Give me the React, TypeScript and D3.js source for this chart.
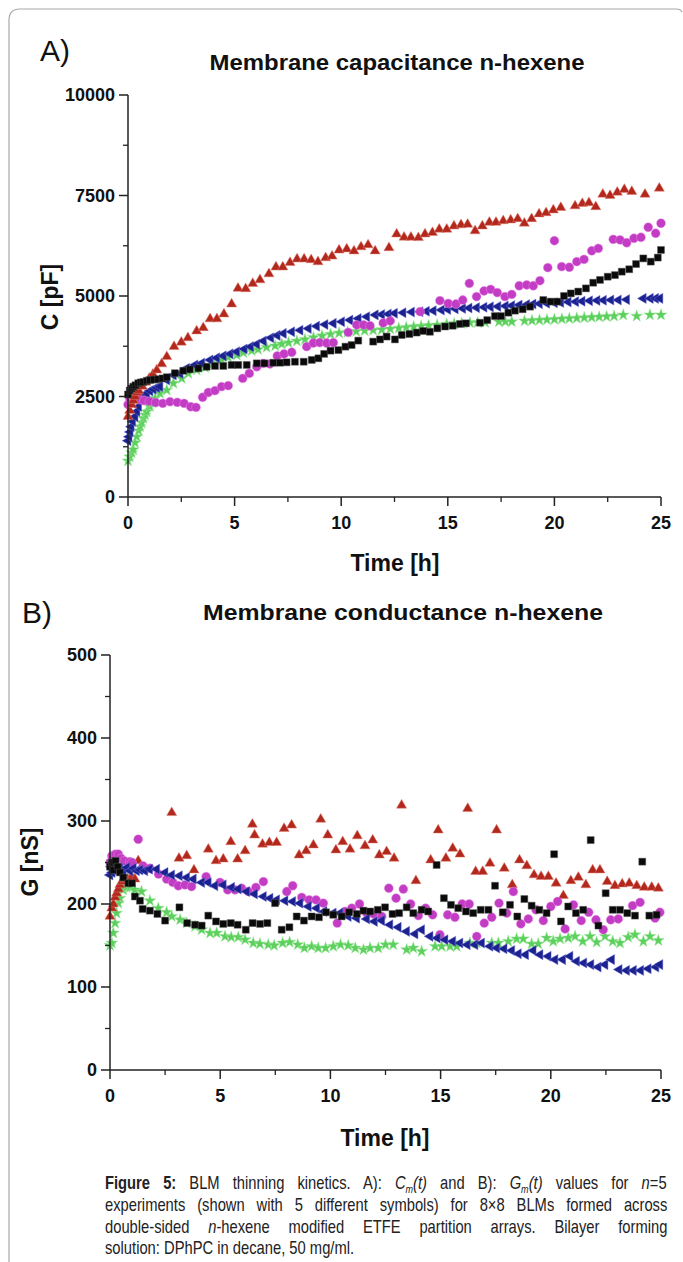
import React, { useMemo } from "react";
import * as d3 from "d3";

type P = [number, number];

// ---------- Panel A: membrane capacitance (pF) vs time (h) ----------
const capRedTriangles: P[] = [[0,2000],[0.08,2150],[0.17,2300],[0.25,2400],[0.33,2500],[0.42,2600],[0.5,2650],[0.67,2750],[0.83,2850],[1.0,2950],[1.17,3050],[1.35,3160],[1.58,3310],[1.82,3490],[2.16,3740],[2.5,3850],[2.81,3960],[3.22,4130],[3.53,4210],[3.85,4430],[4.17,4430],[4.5,4550],[4.86,4800],[5.16,5190],[5.52,5180],[5.85,5310],[6.19,5400],[6.61,5550],[6.94,5720],[7.26,5720],[7.6,5830],[7.93,5920],[8.26,5920],[8.59,5900],[8.91,5850],[9.27,5950],[9.57,5990],[9.9,6140],[10.26,6170],[10.6,6120],[10.93,6220],[11.26,6270],[11.59,6120],[12.24,6200],[12.6,6540],[12.95,6460],[13.27,6460],[13.62,6450],[13.93,6540],[14.28,6575],[14.6,6660],[14.95,6660],[15.29,6740],[15.62,6770],[15.93,6780],[16.28,6620],[16.62,6740],[16.95,6830],[17.26,6830],[17.6,6870],[17.95,6890],[18.28,6920],[18.59,6810],[18.93,6920],[19.28,7040],[19.61,7070],[19.95,7140],[20.3,7200],[20.97,7240],[21.31,7300],[21.62,7320],[21.94,7220],[22.27,7530],[22.61,7500],[22.95,7580],[23.28,7650],[23.63,7600],[24.25,7530],[24.92,7680]];
const capMagentaCircles: P[] = [[0,2300],[0.08,2450],[0.17,2520],[0.25,2500],[0.42,2450],[0.58,2420],[0.75,2400],[1.0,2380],[1.3,2350],[1.63,2330],[1.97,2370],[2.31,2355],[2.63,2330],[2.94,2245],[3.19,2230],[3.5,2480],[3.77,2600],[4.08,2645],[4.39,2745],[4.7,2770],[5.38,2950],[5.69,3075],[6.04,3240],[6.35,3325],[6.66,3310],[7.0,3510],[7.32,3560],[7.68,3600],[8.38,3740],[8.69,3830],[8.99,3840],[9.32,3830],[9.63,3840],[10.33,4095],[10.73,4280],[11.05,4280],[11.35,4260],[11.97,4330],[12.3,4380],[13.7,4610],[14.63,4885],[15.02,4815],[15.38,4800],[15.7,4900],[16.01,5315],[16.35,4985],[16.7,5125],[17.01,5165],[17.32,5085],[17.68,4985],[18.0,5040],[18.35,5255],[18.7,5275],[19.01,5255],[19.32,5380],[19.69,5705],[20.0,6375],[20.34,5730],[20.7,5715],[21.05,5855],[21.39,5910],[21.75,6125],[22.06,6185],[22.76,6410],[23.08,6395],[23.39,6325],[23.73,6435],[24.06,6460],[24.4,6710],[24.75,6560],[25.0,6810]];
const capBlackSquares: P[] = [[0,2550],[0.08,2650],[0.17,2700],[0.25,2745],[0.35,2780],[0.48,2830],[0.6,2850],[0.72,2860],[0.88,2890],[1.03,2910],[1.22,2920],[1.42,2930],[1.62,2950],[1.82,2980],[2.2,3080],[2.59,3140],[2.9,3175],[3.3,3200],[3.69,3240],[4.08,3260],[4.47,3260],[4.86,3285],[5.17,3285],[5.57,3285],[6.04,3325],[6.4,3325],[6.82,3340],[7.13,3340],[7.44,3350],[7.83,3365],[8.24,3365],[8.62,3410],[8.93,3450],[9.2,3560],[9.5,3640],[9.87,3655],[10.2,3740],[10.49,3780],[10.8,3890],[11.5,3865],[11.82,3920],[12.13,3990],[12.52,3920],[12.84,4030],[13.2,4055],[13.54,4090],[13.85,4130],[14.16,4110],[14.51,4195],[14.87,4240],[15.23,4260],[15.57,4305],[15.85,4320],[16.51,4335],[16.85,4400],[17.21,4500],[17.5,4500],[17.84,4585],[18.15,4635],[18.51,4670],[18.86,4735],[19.48,4900],[19.83,4860],[20.14,4860],[20.45,5000],[20.77,5065],[21.12,5110],[21.48,5190],[21.82,5330],[22.14,5400],[22.5,5480],[22.84,5520],[23.16,5605],[23.51,5665],[23.83,5795],[24.17,5935],[24.52,5855],[24.85,5955],[25.0,6145]];
const capBlueTriangles: P[] = [[0,1400],[0.05,1500],[0.1,1620],[0.15,1750],[0.22,1880],[0.33,2000],[0.42,2130],[0.5,2250],[0.64,2455],[0.76,2520],[0.88,2580],[1.03,2640],[1.19,2680],[1.35,2720],[1.5,2745],[1.82,2910],[2.13,3035],[2.44,3075],[2.75,3200],[3.14,3285],[3.46,3330],[3.85,3410],[4.16,3460],[4.47,3510],[4.79,3560],[5.1,3615],[5.45,3680],[5.75,3740],[6.04,3800],[6.35,3880],[6.7,3960],[7.0,4020],[7.29,4070],[7.68,4110],[8.07,4150],[8.46,4190],[8.85,4250],[9.24,4290],[9.63,4320],[10.02,4360],[10.41,4400],[10.8,4440],[11.2,4485],[11.6,4530],[11.9,4540],[12.21,4550],[12.5,4570],[12.9,4585],[13.3,4600],[13.7,4610],[14.0,4620],[14.32,4635],[14.7,4650],[15.0,4665],[15.35,4680],[15.7,4690],[16.0,4700],[16.35,4710],[16.7,4720],[17.0,4730],[17.35,4740],[17.7,4750],[18.0,4760],[18.35,4775],[18.7,4785],[19.0,4800],[19.3,4810],[19.64,4820],[20.0,4830],[20.3,4840],[20.65,4850],[21.0,4860],[21.3,4870],[21.65,4880],[22.0,4890],[22.3,4895],[22.65,4900],[23.0,4900],[23.39,4910],[24.17,4940],[24.5,4940],[24.75,4940],[24.95,4940]];
const capGreenStars: P[] = [[0,900],[0.08,1000],[0.17,1100],[0.25,1180],[0.33,1350],[0.41,1500],[0.5,1650],[0.56,1750],[0.64,1850],[0.72,1960],[0.8,2040],[0.88,2120],[1.03,2250],[1.15,2350],[1.27,2455],[1.5,2580],[1.82,2660],[2.13,2830],[2.52,2950],[2.83,3075],[3.22,3160],[3.61,3225],[4.0,3325],[4.39,3410],[4.7,3475],[5.1,3530],[5.41,3590],[5.8,3640],[6.1,3670],[6.5,3725],[6.9,3760],[7.21,3805],[7.53,3840],[7.92,3880],[8.3,3920],[8.7,3970],[9.1,4010],[9.5,4050],[9.9,4080],[10.3,4100],[10.7,4120],[11.1,4140],[11.5,4150],[11.9,4160],[12.3,4180],[12.7,4200],[13.05,4220],[13.4,4235],[13.75,4250],[14.1,4265],[14.5,4280],[14.95,4300],[15.3,4310],[15.65,4320],[16.04,4335],[16.4,4340],[16.75,4345],[17.4,4360],[17.7,4360],[18.0,4360],[18.6,4380],[18.95,4390],[19.3,4400],[19.65,4410],[20.0,4420],[20.35,4430],[20.7,4440],[21.05,4450],[21.4,4460],[21.75,4470],[22.1,4480],[22.45,4490],[22.8,4500],[23.23,4530],[23.86,4500],[24.48,4530],[25.0,4530]];

// ---------- Panel B: membrane conductance (nS) vs time (h) ----------
const condRedTriangles: P[] = [[0,185],[0.08,195],[0.15,200],[0.23,208],[0.3,213],[0.38,218],[0.45,223],[0.55,227],[0.68,230],[0.8,230],[0.9,230],[1.0,232],[1.13,230],[1.28,252],[2.8,310],[3.13,255],[3.48,258],[3.81,241],[4.46,266],[4.81,252],[5.14,254],[5.48,275],[5.79,254],[6.13,264],[6.46,296],[6.56,283],[6.92,272],[7.23,274],[7.56,274],[7.9,291],[8.24,295],[8.58,259],[8.9,264],[9.23,271],[9.56,302],[9.88,283],[10.25,265],[10.56,275],[10.89,266],[11.22,282],[11.57,270],[11.92,277],[12.22,259],[12.55,263],[12.89,255],[13.23,319],[13.88,228],[14.55,253],[14.89,289],[15.24,255],[15.55,267],[15.88,260],[16.23,315],[16.59,239],[16.91,239],[17.24,249],[17.54,289],[17.89,243],[18.25,223],[18.58,253],[18.91,246],[19.24,235],[19.56,233],[19.89,233],[20.24,225],[20.57,210],[20.91,228],[21.25,232],[21.59,223],[21.9,241],[22.23,241],[22.56,227],[22.91,222],[23.24,224],[23.56,225],[23.9,222],[24.24,220],[24.58,220],[24.88,219]];
const condMagentaCircles: P[] = [[0,250],[0.08,258],[0.15,258],[0.25,260],[0.38,260],[0.5,255],[0.65,252],[0.9,251],[1.0,250],[1.28,278],[1.5,246],[1.81,243],[2.2,236],[2.57,230],[2.85,226],[3.1,222],[3.4,223],[3.7,221],[4.36,233],[4.99,226],[5.34,217],[5.67,217],[5.97,219],[6.28,215],[6.62,220],[6.96,227],[8.02,215],[8.29,222],[8.7,208],[9.04,205],[9.35,205],[9.68,201],[10.31,177],[10.66,191],[10.97,195],[11.32,200],[11.65,189],[11.95,188],[12.33,185],[12.65,219],[12.98,207],[13.31,218],[13.64,200],[13.99,186],[14.32,195],[14.64,187],[14.97,163],[15.32,187],[15.65,184],[15.98,200],[16.3,200],[16.64,161],[16.98,177],[17.32,184],[17.65,201],[18.0,189],[18.3,215],[18.64,176],[18.98,182],[19.33,193],[19.66,180],[20.0,197],[20.31,203],[20.65,170],[21.03,199],[21.38,180],[21.72,190],[22.05,181],[22.38,169],[22.72,181],[23.06,182],[23.71,198],[24.05,202],[24.73,183],[24.95,190]];
const condBlackSquares: P[] = [[0,245],[0.08,250],[0.15,241],[0.25,252],[0.35,245],[0.45,238],[0.6,232],[0.83,225],[1.0,225],[1.13,209],[1.36,204],[1.48,194],[1.81,192],[2.15,188],[2.5,180],[3.15,196],[3.5,177],[3.86,175],[4.16,174],[4.46,186],[4.81,179],[5.14,176],[5.48,177],[5.79,175],[6.16,169],[6.47,177],[6.81,176],[7.14,177],[7.49,201],[7.79,169],[8.14,172],[8.47,185],[8.8,180],[9.15,185],[9.48,184],[9.8,190],[10.13,187],[10.51,185],[10.85,190],[11.2,188],[11.5,192],[11.8,191],[12.15,193],[12.48,196],[12.82,188],[13.12,189],[13.46,196],[13.76,189],[14.14,193],[14.44,191],[14.82,247],[15.15,207],[15.47,199],[15.8,195],[16.15,191],[16.48,189],[16.82,193],[17.17,193],[17.47,222],[17.82,190],[18.15,199],[18.48,185],[18.8,206],[19.13,198],[19.48,193],[19.81,189],[20.15,260],[20.46,179],[20.79,197],[21.14,189],[21.47,193],[21.81,277],[22.16,174],[22.49,213],[22.81,193],[23.14,193],[23.47,189],[23.82,186],[24.15,251],[24.47,186],[24.8,187]];
const condBlueTriangles: P[] = [[0,235],[0.05,245],[0.1,238],[0.15,241],[0.25,248],[0.35,242],[0.45,243],[0.6,240],[0.76,244],[0.9,240],[1.06,243],[1.2,240],[1.36,241],[1.58,240],[1.8,242],[2.12,242],[2.5,238],[2.8,235],[3.15,234],[3.48,232],[3.78,230],[4.16,226],[4.46,226],[4.76,222],[5.14,223],[5.52,220],[5.82,218],[6.2,215],[6.56,212],[6.96,209],[7.26,207],[7.56,205],[7.94,204],[8.29,203],[8.62,201],[9.0,197],[9.38,195],[9.71,191],[10.13,189],[10.43,189],[10.81,185],[11.19,183],[11.65,182],[12.0,179],[12.33,180],[12.7,175],[13.08,172],[13.46,167],[13.84,164],[14.14,169],[14.52,161],[14.85,159],[15.2,157],[15.55,155],[15.88,153],[16.21,151],[16.56,151],[16.86,153],[17.24,149],[17.55,147],[17.88,146],[18.23,144],[18.53,140],[18.86,139],[19.2,144],[19.51,139],[19.88,137],[20.19,133],[20.54,133],[20.87,137],[21.17,131],[21.5,129],[21.82,127],[22.15,124],[22.46,127],[22.76,133],[23.1,121],[23.44,120],[23.75,120],[24.08,120],[24.42,122],[24.77,124],[24.95,127]];
const condGreenStars: P[] = [[0,150],[0.08,153],[0.15,165],[0.23,177],[0.3,189],[0.38,201],[0.45,207],[0.6,217],[0.76,220],[0.9,220],[1.13,217],[1.43,215],[1.81,204],[2.19,195],[2.57,190],[2.8,185],[3.18,181],[3.48,177],[3.86,173],[4.16,169],[4.54,165],[4.84,165],[5.22,161],[5.5,160],[5.82,160],[6.13,157],[6.5,153],[6.8,152],[7.18,151],[7.45,150],[7.83,153],[8.15,154],[8.52,151],[8.82,147],[9.15,149],[9.45,147],[9.78,147],[10.13,149],[10.46,151],[10.81,150],[11.13,147],[11.5,145],[11.8,147],[12.17,147],[12.5,151],[12.85,151],[13.46,145],[13.76,147],[14.14,143],[14.75,149],[15.05,149],[15.43,149],[15.73,149],[16.33,153],[16.64,153],[17.32,153],[17.62,153],[18.07,155],[18.45,158],[18.75,158],[19.13,152],[19.43,152],[19.81,159],[20.11,155],[20.42,158],[20.79,159],[21.1,161],[21.45,155],[21.78,161],[22.08,154],[22.46,161],[22.81,155],[23.14,153],[23.51,160],[23.82,163],[24.2,155],[24.5,161],[24.88,156]];

const xTicks = [0, 5, 10, 15, 20, 25];
const xMinorTicks = [2.5, 7.5, 12.5, 17.5, 22.5];
const capTicks = [0, 2500, 5000, 7500, 10000];
const capMinorTicks = [1250, 3750, 6250, 8750];
const condTicks = [0, 100, 200, 300, 400, 500];
const condMinorTicks = [50, 150, 250, 350, 450];

const FONT = "'Liberation Sans', Arial, Helvetica, sans-serif";

type SymKind = "triUp" | "triLeft" | "square" | "circle" | "star";
interface Series { data: P[]; kind: SymKind; color: string; halo: string }

const symPaths: Record<SymKind, string> = {
  triUp: d3.symbol(d3.symbolTriangle, 44)() as string,
  triLeft: d3.symbol(d3.symbolTriangle, 44)() as string,
  square: d3.symbol(d3.symbolSquare, 48)() as string,
  circle: d3.symbol(d3.symbolCircle, 62)() as string,
  star: d3.symbol(d3.symbolStar, 44)() as string,
};

const RED = "#b3281c", MAG = "#c23cc4", BLK = "#0a0a0a", BLU = "#1b2290", GRN = "#5ccf5c";

interface PanelProps {
  left: number; right: number; top: number; bottom: number;
  yMax: number; yTicks: number[]; yMinor: number[];
  series: Series[];
  title: string; titleX: number; titleY: number; titleLen: number;
  letter: string; letterX: number; letterY: number;
  yLabel: string; yLabelX: number; yLabelY: number;
  xLabelX: number; xLabelY: number;
}

function Panel(p: PanelProps) {
  const x = d3.scaleLinear().domain([0, 25]).range([p.left, p.right]);
  const y = d3.scaleLinear().domain([0, p.yMax]).range([p.bottom, p.top]);
  const axisColor = "#222";
  return (
    <g>
      <text x={p.letterX} y={p.letterY} fontFamily={FONT} fontSize={30} fill="#111">{p.letter}</text>
      <text x={p.titleX} y={p.titleY} fontFamily={FONT} fontSize={22} fontWeight="bold" textAnchor="middle"
        textLength={p.titleLen} lengthAdjust="spacingAndGlyphs" fill="#111">{p.title}</text>
      {p.series.map((s, si) => (
        <g key={si}>
          {s.data.map(([t, v], i) => (
            <path key={i} d={symPaths[s.kind]}
              transform={`translate(${x(t)},${y(v)})${s.kind === "triLeft" ? " rotate(-90)" : ""}`}
              fill={s.color} stroke={s.halo} strokeWidth={0.8} strokeOpacity={0.6} />
          ))}
        </g>
      ))}
      <line x1={p.left} x2={p.left} y1={p.top} y2={p.bottom} stroke={axisColor} strokeWidth={1.5} />
      <line x1={p.left} x2={p.right} y1={p.bottom} y2={p.bottom} stroke={axisColor} strokeWidth={1.5} />
      {p.yTicks.map((t) => (
        <g key={"yt" + t}>
          <line x1={p.left - 9} x2={p.left} y1={y(t)} y2={y(t)} stroke={axisColor} strokeWidth={1.5} />
          <text x={p.left - 13} y={y(t)} dy="0.36em" textAnchor="end" fontFamily={FONT} fontSize={18} fontWeight="bold" fill="#111">{t}</text>
        </g>
      ))}
      {p.yMinor.map((t) => (
        <line key={"ym" + t} x1={p.left - 5} x2={p.left} y1={y(t)} y2={y(t)} stroke={axisColor} strokeWidth={1.3} />
      ))}
      {xTicks.map((t) => (
        <g key={"xt" + t}>
          <line x1={x(t)} x2={x(t)} y1={p.bottom} y2={p.bottom + 9} stroke={axisColor} strokeWidth={1.5} />
          <text x={x(t)} y={p.bottom + 32} textAnchor="middle" fontFamily={FONT} fontSize={18} fontWeight="bold" fill="#111">{t}</text>
        </g>
      ))}
      {xMinorTicks.map((t) => (
        <line key={"xm" + t} x1={x(t)} x2={x(t)} y1={p.bottom} y2={p.bottom + 5} stroke={axisColor} strokeWidth={1.3} />
      ))}
      <text transform={`translate(${p.yLabelX},${p.yLabelY}) rotate(-90)`} textAnchor="middle" dy="0.36em"
        fontFamily={FONT} fontSize={23} fontWeight="bold" fill="#111">{p.yLabel}</text>
      <text x={p.xLabelX} y={p.xLabelY} textAnchor="middle" fontFamily={FONT} fontSize={23} fontWeight="bold" fill="#111">Time [h]</text>
    </g>
  );
}

// ---------- caption ----------
interface Seg { t: string; b?: boolean; i?: boolean; sub?: boolean }
const CAP_FS = 18;
const CAP_SUB_FS = 11;
const CAP_SCALE = 0.82;
const CAP_LEFT = 105;
const CAP_WIDTH = 563;
const captionLines: { segs: Seg[]; y: number; justify: boolean }[] = [
  { y: 1189, justify: true, segs: [
    { t: "Figure 5:", b: true }, { t: " BLM thinning kinetics. A): " }, { t: "C", i: true }, { t: "m", i: true, sub: true },
    { t: "(t)", i: true }, { t: " and B): " }, { t: "G", i: true }, { t: "m", i: true, sub: true }, { t: "(t)", i: true },
    { t: " values for " }, { t: "n", i: true }, { t: "=5" }] },
  { y: 1211, justify: true, segs: [{ t: "experiments (shown with 5 different symbols) for 8×8 BLMs formed across" }] },
  { y: 1233, justify: true, segs: [{ t: "double-sided " }, { t: "n", i: true }, { t: "-hexene modified ETFE partition arrays. Bilayer forming" }] },
  { y: 1254, justify: false, segs: [{ t: "solution: DPhPC in decane, 50 mg/ml." }] },
];

function segFont(s: Seg) {
  return `${s.i ? "italic " : ""}${s.b ? "bold " : ""}${s.sub ? CAP_SUB_FS : CAP_FS}px 'Liberation Sans', Arial, sans-serif`;
}

function Caption() {
  const spacings = useMemo(() => {
    const canvas = document.createElement("canvas");
    const ctx = canvas.getContext("2d");
    return captionLines.map((ln) => {
      if (!ln.justify || !ctx) return 0;
      let w = 0, n = 0;
      ln.segs.forEach((s) => {
        ctx.font = segFont(s);
        w += ctx.measureText(s.t).width;
        n += (s.t.match(/ /g) || []).length;
      });
      return n > 0 ? (CAP_WIDTH / CAP_SCALE - w) / n : 0;
    });
  }, []);
  return (
    <g transform={`translate(${CAP_LEFT},0) scale(${CAP_SCALE},1)`} fontFamily={FONT} fontSize={CAP_FS} fill="#222">
      {captionLines.map((ln, li) => (
        <text key={li} x={0} y={ln.y} wordSpacing={spacings[li]}>
          {ln.segs.map((s, si) => (
            <tspan key={si} fontWeight={s.b ? "bold" : undefined} fontStyle={s.i ? "italic" : undefined}
              fontSize={s.sub ? CAP_SUB_FS : undefined}
              dy={s.sub ? 4 : si > 0 && ln.segs[si - 1].sub ? -4 : undefined}>{s.t}</tspan>
          ))}
        </text>
      ))}
    </g>
  );
}

export default function App() {
  const capSeries: Series[] = [
    { data: capGreenStars, kind: "star", color: GRN, halo: "#9be89b" },
    { data: capBlueTriangles, kind: "triLeft", color: BLU, halo: "#6b6fd0" },
    { data: capMagentaCircles, kind: "circle", color: MAG, halo: "#e88ae8" },
    { data: capRedTriangles, kind: "triUp", color: RED, halo: "#e07a70" },
    { data: capBlackSquares, kind: "square", color: BLK, halo: "#555" },
  ];
  const condSeries: Series[] = [
    { data: condGreenStars, kind: "star", color: GRN, halo: "#9be89b" },
    { data: condRedTriangles, kind: "triUp", color: RED, halo: "#e07a70" },
    { data: condMagentaCircles, kind: "circle", color: MAG, halo: "#e88ae8" },
    { data: condBlueTriangles, kind: "triLeft", color: BLU, halo: "#6b6fd0" },
    { data: condBlackSquares, kind: "square", color: BLK, halo: "#555" },
  ];
  return (
    <svg width={683} height={1262} style={{ position: "absolute", left: 0, top: 0, background: "#fff" }}>
      <rect x={0} y={0} width={683} height={1262} fill="#fff" />
      <path d="M9,1262 V20 Q9,9 20,9 H676 Q681,9 682,12" fill="none" stroke="#a8a8a8" strokeWidth={1.2} />
      <Panel left={128} right={661} top={95} bottom={497} yMax={10000} yTicks={capTicks} yMinor={capMinorTicks}
        series={capSeries} title="Membrane capacitance n-hexene" titleX={397} titleY={70} titleLen={375}
        letter="A)" letterX={40} letterY={61} yLabel="C [pF]" yLabelX={50} yLabelY={297}
        xLabelX={395} xLabelY={571} />
      <Panel left={110} right={661} top={655} bottom={1070} yMax={500} yTicks={condTicks} yMinor={condMinorTicks}
        series={condSeries} title="Membrane conductance n-hexene" titleX={403} titleY={620} titleLen={400}
        letter="B)" letterX={22} letterY={623} yLabel="G [nS]" yLabelX={30} yLabelY={862}
        xLabelX={385} xLabelY={1146} />
      <Caption />
    </svg>
  );
}
